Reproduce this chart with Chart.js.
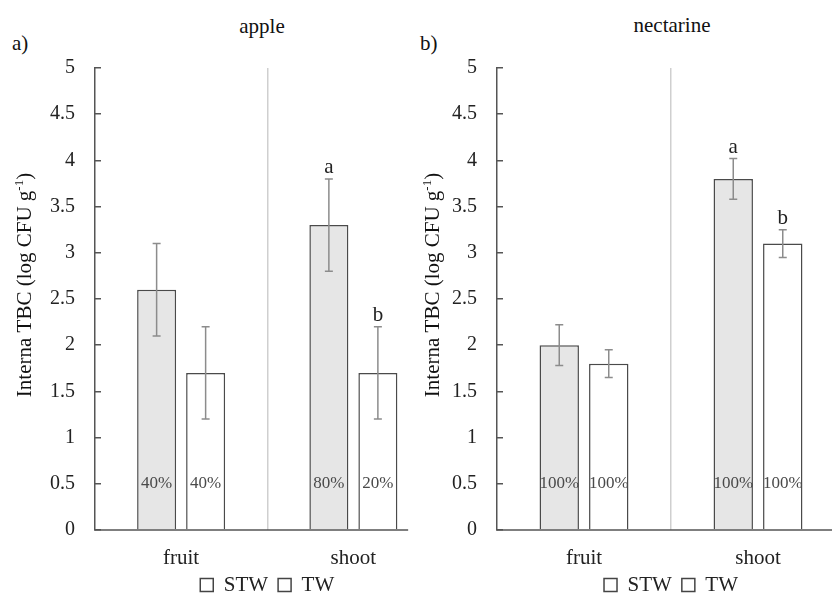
<!DOCTYPE html>
<html><head><meta charset="utf-8">
<script src="https://cdn.jsdelivr.net/npm/chart.js@4"></script>
<style>
html,body{margin:0;padding:0;width:832px;height:594px;overflow:hidden;background:#fff;}
.c{position:absolute;top:0;}
.t{position:absolute;font-family:"Liberation Serif",serif;color:#111;white-space:nowrap;line-height:1;}
</style></head><body>
<div class="t" style="left:12px;top:33px;font-size:21px;">a)</div>
<div class="t" style="left:262px;top:15.5px;font-size:21px;transform:translateX(-50%);">apple</div>
<div class="t" style="left:420px;top:33px;font-size:21px;">b)</div>
<div class="t" style="left:672px;top:14.5px;font-size:21px;transform:translateX(-50%);">nectarine</div>
<div class="c" style="left:0;width:460px;height:610px;"><canvas id="ca" width="460" height="610"></canvas></div>
<div class="c" style="left:410px;width:450px;height:610px;"><canvas id="cb" width="450" height="610"></canvas></div>
<script>
const categories = ['fruit', 'shoot'];
const seriesNames = ['STW', 'TW'];
const yTickLabels = ['0','0.5','1','1.5','2','2.5','3','3.5','4','4.5','5'];
const yTitle = 'Interna TBC (log CFU g';

const appleSTW = [2.6, 3.3];
const appleTW = [1.7, 1.7];
const appleSTWErr = [0.5, 0.5];
const appleTWErr = [0.5, 0.5];
const appleSTWLetters = ['', 'a'];
const appleTWLetters = ['', 'b'];
const appleSTWPct = ['40%', '80%'];
const appleTWPct = ['40%', '20%'];

const nectSTW = [2.0, 3.8];
const nectTW = [1.8, 3.1];
const nectSTWErr = [0.22, 0.22];
const nectTWErr = [0.15, 0.15];
const nectSTWLetters = ['', 'a'];
const nectTWLetters = ['', 'b'];
const nectSTWPct = ['100%', '100%'];
const nectTWPct = ['100%', '100%'];

const SERIF = '"Liberation Serif", "Times New Roman", serif';

const annotPlugin = {
  id: 'annot',
  afterDatasetsDraw(chart, args, opts) {
    const ctx = chart.ctx, y = chart.scales.y, area = chart.chartArea;
    ctx.save();
    const y0 = y.getPixelForValue(0);
    ctx.strokeStyle = '#555'; ctx.lineWidth = 1.5;
    ctx.beginPath();
    ctx.moveTo(area.left, y0);
    ctx.lineTo(area.left + (area.right - area.left) * opts.axisFrac, y0);
    ctx.stroke();
    chart.data.datasets.forEach((ds, di) => {
      const meta = chart.getDatasetMeta(di);
      meta.data.forEach((bar, i) => {
        const v = ds.data[i], e = ds.errors[i];
        const yt = y.getPixelForValue(v + e), yb = y.getPixelForValue(v - e);
        ctx.strokeStyle = '#8c8c8c'; ctx.lineWidth = 1.5;
        ctx.beginPath();
        ctx.moveTo(bar.x, yt); ctx.lineTo(bar.x, yb);
        ctx.moveTo(bar.x - 4, yt); ctx.lineTo(bar.x + 4, yt);
        ctx.moveTo(bar.x - 4, yb); ctx.lineTo(bar.x + 4, yb);
        ctx.stroke();
        ctx.textAlign = 'center';
        if (ds.letters[i]) {
          ctx.fillStyle = '#222'; ctx.font = '21px ' + SERIF; ctx.textBaseline = 'alphabetic';
          ctx.fillText(ds.letters[i], bar.x, yt - 6);
        }
        ctx.fillStyle = '#4a4a4a'; ctx.font = '17px ' + SERIF; ctx.textBaseline = 'middle';
        ctx.fillText(ds.pcts[i], bar.x, y.getPixelForValue(0.5));
      });
    });
    ctx.translate(opts.titleX, opts.titleY);
    ctx.rotate(-Math.PI / 2);
    ctx.fillStyle = '#111'; ctx.textBaseline = 'alphabetic'; ctx.textAlign = 'left';
    ctx.font = '21px ' + SERIF;
    const w1 = ctx.measureText(yTitle).width;
    const w3 = ctx.measureText(')').width;
    ctx.font = '13px ' + SERIF;
    const w2 = ctx.measureText('-1').width;
    const x = -(w1 + w2 + w3) / 2;
    ctx.font = '21px ' + SERIF;
    ctx.fillText(yTitle, x, 7);
    ctx.font = '13px ' + SERIF;
    ctx.fillText('-1', x + w1, -1);
    ctx.font = '21px ' + SERIF;
    ctx.fillText(')', x + w1 + w2, 7);
    ctx.restore();
  }
};

function makeChart(id, stw, tw, stwErr, twErr, stwL, twL, stwP, twP, cfg) {
  return new Chart(document.getElementById(id), {
    type: 'bar',
    data: {
      labels: categories,
      datasets: [
        { label: seriesNames[0], data: stw, errors: stwErr, letters: stwL, pcts: stwP,
          backgroundColor: '#e6e6e6', borderColor: '#4a4a4a', borderWidth: 1.5 },
        { label: seriesNames[1], data: tw, errors: twErr, letters: twL, pcts: twP,
          backgroundColor: '#ffffff', borderColor: '#4a4a4a', borderWidth: 1.5 }
      ]
    },
    options: {
      responsive: false,
      animation: false,
      categoryPercentage: 0.569,
      barPercentage: 0.796,
      layout: { padding: { left: 0, right: cfg.padRight, top: 68, bottom: 4.5 } },
      scales: {
        x: {
          grid: {
            offset: true, drawTicks: false, lineWidth: 1.5,
            color: (c) => c.index === 1 ? '#cfcfcf' : 'rgba(0,0,0,0)'
          },
          border: { display: false },
          ticks: { color: '#222', font: { family: SERIF, size: 21 }, padding: 16 },
          afterFit: (s) => { s.height = 34.5; }
        },
        y: {
          min: 0, max: 5,
          ticks: {
            stepSize: 0.5, color: '#222', font: { family: SERIF, size: 20 }, padding: 26,
            callback: (v, i) => yTickLabels[i]
          },
          grid: { drawOnChartArea: false, drawTicks: true, tickLength: -6, color: '#555', lineWidth: 1.5 },
          border: { display: true, color: '#555', width: 1.5 },
          afterFit: (s) => { s.width = cfg.yWidth; }
        }
      },
      plugins: {
        legend: {
          position: 'bottom', fullSize: false,
          labels: {
            boxWidth: 13, boxHeight: 13, padding: 10, color: '#222',
            font: { family: SERIF, size: 21 },
            generateLabels(chart) {
              const items = Chart.defaults.plugins.legend.labels.generateLabels(chart);
              items.forEach(it => { it.fillStyle = '#fff'; it.strokeStyle = '#444'; it.lineWidth = 1.5; });
              return items;
            }
          }
        },
        tooltip: { enabled: false },
        annot: { axisFrac: cfg.axisFrac, titleX: cfg.titleX, titleY: 285 }
      }
    },
    plugins: [annotPlugin]
  });
}

makeChart('ca', appleSTW, appleTW, appleSTWErr, appleTWErr, appleSTWLetters, appleTWLetters, appleSTWPct, appleTWPct,
  { padRight: 20.5, yWidth: 95, axisFrac: 0.909, titleX: 24 });
makeChart('cb', nectSTW, nectTW, nectSTWErr, nectTWErr, nectSTWLetters, nectTWLetters, nectSTWPct, nectTWPct,
  { padRight: 15, yWidth: 87, axisFrac: 1, titleX: 22 });
</script>
</body></html>
